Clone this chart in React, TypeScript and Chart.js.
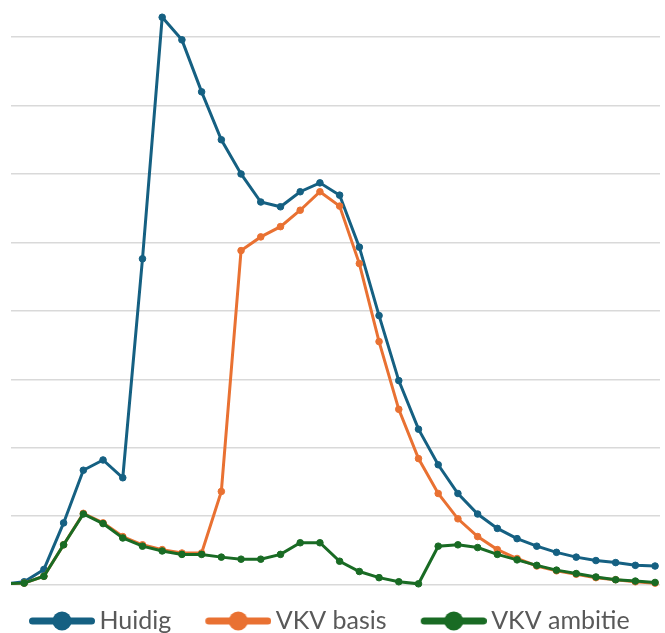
import { useEffect, useRef } from "react";
import { Chart, registerables } from "chart.js";

Chart.register(...registerables);

// period index (0 is just outside the visible plot on the left)
const periods = [0, 1, 2, 3, 4, 5, 6, 7, 8, 9, 10, 11, 12, 13, 14, 15, 16, 17, 18, 19, 20, 21, 22, 23, 24, 25, 26, 27, 28, 29, 30, 31, 32, 33];

const seriesNames = ["Huidig", "VKV basis", "VKV ambitie"];
const seriesColors = ["#156082", "#E97132", "#196B24"];

const huidig = [0.01, 0.04, 0.22, 0.9, 1.67, 1.82, 1.56, 4.76, 8.29, 7.96, 7.2, 6.5, 6.0, 5.59, 5.52, 5.74, 5.87, 5.69, 4.93, 3.93, 2.98, 2.27, 1.75, 1.33, 1.03, 0.82, 0.67, 0.56, 0.47, 0.4, 0.35, 0.32, 0.28, 0.27];
const vkvBasis = [0.01, 0.02, 0.12, 0.58, 1.04, 0.9, 0.7, 0.58, 0.51, 0.46, 0.46, 1.36, 4.88, 5.08, 5.23, 5.47, 5.74, 5.53, 4.69, 3.55, 2.56, 1.84, 1.33, 0.96, 0.7, 0.51, 0.38, 0.27, 0.2, 0.15, 0.1, 0.07, 0.04, 0.02];
const vkvAmbitie = [0.01, 0.02, 0.12, 0.58, 1.03, 0.89, 0.68, 0.56, 0.49, 0.44, 0.44, 0.4, 0.37, 0.37, 0.44, 0.61, 0.61, 0.34, 0.19, 0.1, 0.04, 0.01, 0.56, 0.58, 0.54, 0.44, 0.36, 0.28, 0.21, 0.16, 0.11, 0.07, 0.05, 0.03];

const seriesValues = [huidig, vkvBasis, vkvAmbitie];

function legendMarker(color: string): HTMLCanvasElement {
  const c = document.createElement("canvas");
  c.width = 84;
  c.height = 22;
  const ctx = c.getContext("2d")!;
  ctx.strokeStyle = color;
  ctx.lineWidth = 7;
  ctx.lineCap = "round";
  ctx.beginPath();
  ctx.moveTo(21.5, 11);
  ctx.lineTo(80.5, 11);
  ctx.stroke();
  ctx.fillStyle = color;
  ctx.beginPath();
  ctx.arc(51, 11, 9.5, 0, Math.PI * 2);
  ctx.fill();
  return c;
}

export default function App() {
  const ref = useRef<HTMLCanvasElement | null>(null);

  useEffect(() => {
    if (!ref.current) return;
    const markers = seriesColors.map((c) => legendMarker(c));
    const chart = new Chart(ref.current, {
      type: "line",
      data: {
        datasets: seriesNames.map((name, si) => ({
          label: name,
          data: periods.map((p, i) => ({ x: p, y: seriesValues[si][i] })),
          borderColor: seriesColors[si],
          backgroundColor: seriesColors[si],
          pointBackgroundColor: seriesColors[si],
          pointBorderColor: seriesColors[si],
          pointBorderWidth: 1,
          pointRadius: 3.3,
          borderWidth: 3,
          tension: 0,
          order: 3 - si,
          clip: { left: 0, top: 6, right: 6, bottom: 8 },
        })),
      },
      options: {
        animation: false,
        responsive: false,
        layout: { padding: { left: -5, top: 7, right: 0, bottom: -10.5 } },
        scales: {
          x: {
            type: "linear",
            min: 0.331,
            max: 33.25,
            display: false,
          },
          y: {
            type: "linear",
            min: 0,
            max: 8.44,
            ticks: { display: false, stepSize: 1 },
            border: { display: false },
            grid: {
              drawTicks: false,
              lineWidth: 1.4,
              color: (ctx: any) =>
                ctx.tick && Math.abs(ctx.tick.value - Math.round(ctx.tick.value)) < 1e-6
                  ? "#d9d9d9"
                  : "rgba(0,0,0,0)",
            },
            afterFit: (scale: any) => {
              scale.width = 16;
            },
          },
        },
        plugins: {
          tooltip: { enabled: false },
          legend: {
            position: "bottom",
            align: "start",
            labels: {
              usePointStyle: true,
              pointStyleWidth: 68,
              padding: 24,
              color: "#595959",
              font: { family: "Lato", size: 25 },
              sort: (a: any, b: any) => a.datasetIndex - b.datasetIndex,
              generateLabels: (ch: any) =>
                Chart.defaults.plugins.legend.labels
                  .generateLabels(ch)
                  .map((l: any) => ({ ...l, pointStyle: markers[l.datasetIndex] })),
            },
          },
        },
      },
    });
    return () => chart.destroy();
  }, []);

  return (
    <div style={{ position: "absolute", left: 0, top: 0, width: 665, height: 633, background: "#fff" }}>
      <canvas ref={ref} width={665} height={633} style={{ display: "block" }} />
    </div>
  );
}
